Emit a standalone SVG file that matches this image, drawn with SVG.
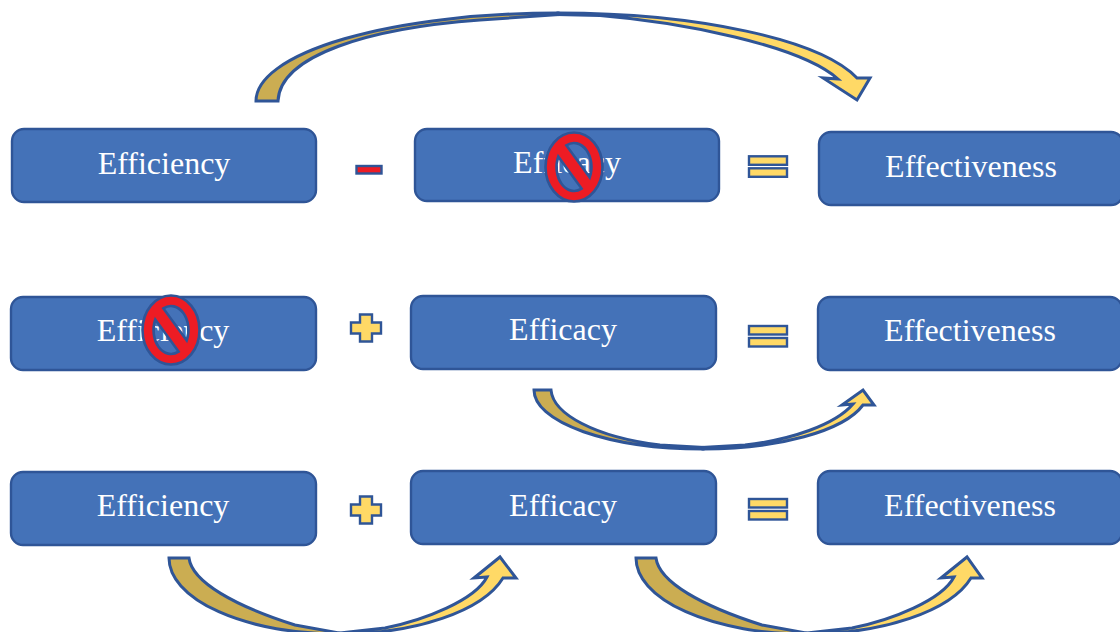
<svg xmlns="http://www.w3.org/2000/svg" width="1120" height="632" viewBox="0 0 1120 632">
<style>
.box{fill:#4472B8;stroke:#2F5597;stroke-width:2.4}
.t{font-family:"Liberation Serif","Times New Roman",serif;font-size:32px;fill:#fff;text-anchor:middle}
.a{stroke:#2F5597;stroke-width:3;stroke-linejoin:miter}
.dk{fill:#CBAD52}.lt{fill:#FFD966}
.op{fill:#FFD966;stroke:#2F5597;stroke-width:2.4}
.no{fill:#ED1C24;fill-rule:evenodd;stroke:#2F5597;stroke-width:2.6}
</style>
<defs>
<path id="nosign" class="no" d="M-28.500,0A28.500,34.500 0 1 1 28.500,0A28.500,34.500 0 1 1 -28.500,0ZM-7.600,-21.600A17.500,24 0 0 1 15.750,10.400ZM7.600,21.600A17.500,24 0 0 1 -15.750,-10.400Z"/>
</defs>
<g id="connectors">
<g id="arrow-top">
<path class="a dk" d="M256,101A302,88 0 0 1 558,13L558,14.500L480,20C370,28 280,55 278,101Z"/>
<path class="a lt" d="M558,13A310,88 0 0 1 857,78L870,78L857,100L823,78L838,79C800,45 680,22 600,15.500L558,14.500Z"/>
</g>
<g id="arrow-mid">
<path class="a dk" d="M534,390L551,390C553,414 595,437 660,445L703,447.500L703,449A169,59 0 0 1 534,390Z"/>
<path class="a lt" d="M703,449A165,59 0 0 0 863,405L874,405L863,390L842,405L853,404C835,425 790,440 745,445L703,447.500Z"/>
</g>
<g id="arrow-bl">
<path class="a dk" d="M169,558L189,558C192,582 235,606 295,625L339,633L339,634A170,76 0 0 1 169,558Z"/>
<path class="a lt" d="M339,634A170,76 0 0 0 503,578L516,578L500,557L474,578L487,577C475,600 425,620 385,628L339,633Z"/>
</g>
<g id="arrow-br">
<path class="a dk" d="M636,558L656,558C659,582 702,606 762,625L806,633L806,634A170,76 0 0 1 636,558Z"/>
<path class="a lt" d="M806,634A171,76 0 0 0 971,578L982,578L967,557L941,578L954,577C942,600 892,620 852,628L806,633Z"/>
</g>
</g>
<g id="n1"><rect class="box" x="12" y="129" width="304" height="73" rx="12"/><text class="t" x="164" y="174">Efficiency</text></g>
<g id="op1"><rect x="356.500" y="166" width="25" height="7.500" fill="#ED1C24" stroke="#2F5597" stroke-width="2.400"/></g>
<g id="n2"><rect class="box" x="415" y="129" width="304" height="72" rx="12"/><text class="t" x="567" y="173">Efficacy</text></g>
<use id="no1" href="#nosign" x="574" y="167"/>
<g id="eq1"><rect class="op" x="749" y="156.300" width="38" height="8.500"/><rect class="op" x="749" y="168.300" width="38" height="8.500"/></g>
<g id="n3"><rect class="box" x="819" y="132" width="304" height="73" rx="12"/><text class="t" x="971" y="177">Effectiveness</text></g>

<g id="n4"><rect class="box" x="11" y="297" width="305" height="73" rx="12"/><text class="t" x="163" y="341">Efficiency</text></g>
<use id="no2" href="#nosign" x="171" y="330"/>
<g id="op2"><path class="op" d="M360,314.500h12v8h9v11h-9v8h-12v-8h-9v-11h9z"/></g>
<g id="n5"><rect class="box" x="411" y="296" width="305" height="73" rx="12"/><text class="t" x="563" y="340">Efficacy</text></g>
<g id="eq2"><rect class="op" x="749" y="326" width="38" height="8.500"/><rect class="op" x="749" y="338" width="38" height="8.500"/></g>
<g id="n6"><rect class="box" x="818" y="297" width="304" height="73" rx="12"/><text class="t" x="970" y="341">Effectiveness</text></g>

<g id="n7"><rect class="box" x="11" y="472" width="305" height="73" rx="12"/><text class="t" x="163" y="516">Efficiency</text></g>
<g id="op3"><path class="op" d="M360,496.500h12v8h9v11h-9v8h-12v-8h-9v-11h9z"/></g>
<g id="n8"><rect class="box" x="411" y="471" width="305" height="73" rx="12"/><text class="t" x="563" y="516">Efficacy</text></g>
<g id="eq3"><rect class="op" x="749" y="499" width="38" height="8.500"/><rect class="op" x="749" y="511" width="38" height="8.500"/></g>
<g id="n9"><rect class="box" x="818" y="471" width="304" height="73" rx="12"/><text class="t" x="970" y="516">Effectiveness</text></g>
</svg>
